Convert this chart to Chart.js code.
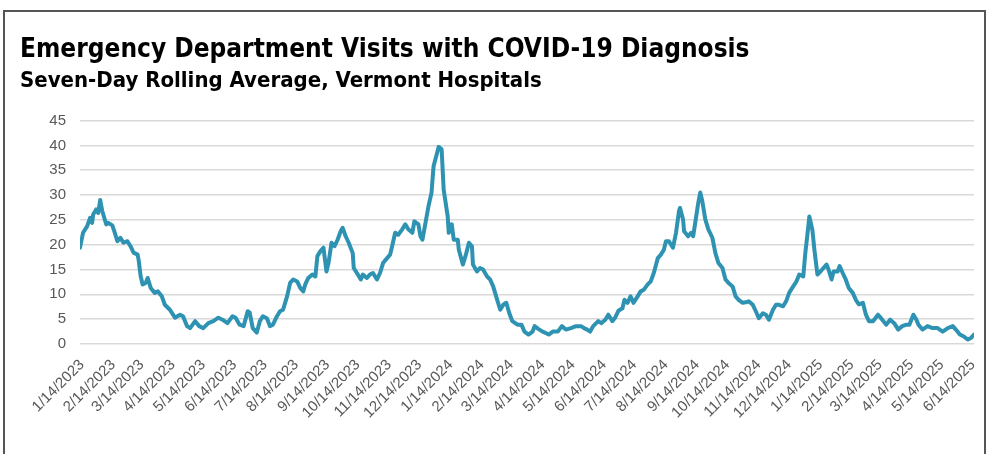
<!DOCTYPE html>
<html>
<head>
<meta charset="utf-8">
<title>Emergency Department Visits with COVID-19 Diagnosis</title>
<script src="https://cdn.jsdelivr.net/npm/chart.js@4.4.1/dist/chart.umd.min.js"></script>
<style>
    html, body { margin: 0; padding: 0; background: #fff; }
    #wrap { position: relative; width: 999px; height: 454px; overflow: hidden; }
    #frame {
        position: absolute; left: 3px; top: 10px; width: 983px; height: 470px;
        box-sizing: border-box; border: 2px solid #555; pointer-events: none;
    }
</style>
</head>
<body>
<div id="wrap">
    <canvas id="chartVisitas" width="999" height="454"></canvas>
    <div id="frame"></div>
</div>
<script>
// Etiquetas del eje X (una por mes, el día 14)
const tickLabels = [
    '1/14/2023', '2/14/2023', '3/14/2023', '4/14/2023', '5/14/2023', '6/14/2023',
    '7/14/2023', '8/14/2023', '9/14/2023', '10/14/2023', '11/14/2023', '12/14/2023',
    '1/14/2024', '2/14/2024', '3/14/2024', '4/14/2024', '5/14/2024', '6/14/2024',
    '7/14/2024', '8/14/2024', '9/14/2024', '10/14/2024', '11/14/2024', '12/14/2024',
    '1/14/2025', '2/14/2025', '3/14/2025', '4/14/2025', '5/14/2025', '6/14/2025'
];

// Días desde el 1/14/2023
const dayOffsets = [
    -2, 1, 5, 8, 10, 11, 14, 16, 18, 20, 24, 26, 30, 32, 35, 38, 41, 45, 48, 51,
    55, 56, 58, 60, 63, 65, 68, 72, 75, 79, 82, 87, 92, 97, 100, 104, 107, 112, 116, 120,
    125, 130, 135, 139, 144, 149, 152, 156, 160, 164, 166, 169, 173, 176, 179, 183, 186, 189, 193, 196,
    199, 203, 206, 209, 213, 216, 219, 221, 224, 228, 231, 233, 236, 239, 242, 244, 247, 250, 253, 256,
    258, 261, 264, 268, 269, 273, 276, 278, 282, 285, 288, 292, 295, 298, 302, 305, 307, 310, 313, 317,
    320, 323, 327, 329, 333, 335, 337, 340, 343, 346, 348, 352, 353, 356, 358, 362, 363, 366, 368, 372,
    373, 377, 380, 383, 386, 387, 391, 394, 397, 401, 404, 407, 411, 414, 417, 420, 423, 426, 431, 435,
    438, 442, 446, 448, 452, 456, 459, 462, 466, 471, 475, 479, 484, 489, 494, 497, 500, 503, 506, 511,
    514, 518, 521, 525, 528, 531, 535, 537, 540, 543, 546, 550, 553, 556, 560, 563, 566, 570, 573, 576,
    578, 581, 585, 588, 591, 592, 595, 596, 600, 603, 605, 608, 610, 612, 614, 617, 620, 624, 627, 630,
    634, 637, 640, 644, 647, 650, 654, 657, 660, 664, 667, 670, 674, 677, 680, 684, 687, 690, 694, 697,
    700, 704, 707, 710, 714, 716, 719, 720, 723, 725, 728, 731, 734, 737, 739, 742, 744, 748, 750, 753,
    756, 759, 763, 766, 769, 773, 776, 779, 783, 788, 791, 796, 800, 804, 808, 812, 816, 819, 823, 826,
    828, 832, 837, 842, 847, 852, 857, 862, 865, 869, 873, 877, 880, 883
];

// Promedio móvil de 7 días (visitas)
const visits = [
    19.4, 22.4, 23.7, 25.4, 24.4, 26.1, 27.1, 26.4, 29.0, 26.8, 24.1, 24.4, 23.9, 22.7, 20.7, 21.4, 20.4, 20.7, 19.7, 18.4,
    18.0, 17.0, 13.7, 12.0, 12.3, 13.3, 11.3, 10.3, 10.6, 9.6, 7.9, 6.9, 5.3, 5.9, 5.6, 3.6, 3.2, 4.6, 3.6, 3.2,
    4.2, 4.6, 5.3, 4.9, 4.2, 5.6, 5.3, 3.9, 3.6, 6.6, 6.3, 3.2, 2.3, 4.6, 5.6, 5.2, 3.6, 3.9, 5.6, 6.6,
    6.9, 9.6, 12.3, 13.0, 12.6, 11.3, 10.6, 12.0, 13.3, 14.0, 13.6, 17.7, 18.7, 19.4, 14.6, 16.3, 20.4, 19.7, 21.0, 22.7,
    23.4, 21.7, 20.4, 18.3, 15.3, 14.0, 13.0, 14.0, 13.3, 14.0, 14.3, 13.0, 14.3, 16.3, 17.3, 18.0, 19.7, 22.4, 22.0, 23.1,
    24.1, 23.1, 22.4, 24.7, 24.1, 21.7, 21.0, 24.4, 27.8, 30.5, 35.8, 38.9, 39.7, 39.2, 31.1, 25.7, 22.4, 24.1, 21.0, 21.0,
    19.0, 16.0, 18.0, 20.4, 19.7, 16.0, 14.6, 15.3, 15.0, 13.6, 13.0, 11.6, 8.9, 6.9, 7.9, 8.3, 6.2, 4.6, 3.9, 3.9,
    2.5, 1.9, 2.5, 3.6, 3.0, 2.5, 2.2, 1.9, 2.5, 2.5, 3.6, 2.9, 3.2, 3.6, 3.6, 3.2, 2.9, 2.5, 3.6, 4.6,
    4.2, 4.9, 5.9, 4.6, 5.4, 6.7, 7.2, 8.9, 8.3, 9.6, 8.3, 9.6, 10.6, 10.9, 12.0, 12.6, 14.3, 17.3, 18.0, 19.0,
    20.7, 20.7, 19.4, 22.4, 26.8, 27.4, 25.1, 22.7, 21.7, 22.4, 21.7, 25.7, 28.4, 30.5, 28.8, 25.1, 23.1, 21.4, 18.3, 16.3,
    15.3, 13.0, 12.3, 11.6, 9.6, 8.9, 8.3, 8.4, 8.6, 7.9, 6.6, 5.2, 6.2, 5.9, 4.9, 6.9, 7.9, 7.9, 7.6, 8.6,
    10.3, 11.6, 12.5, 14.0, 13.6, 18.3, 23.7, 25.7, 23.0, 19.0, 14.0, 14.6, 15.3, 16.0, 15.0, 13.0, 14.6, 14.6, 15.7, 14.3,
    13.0, 11.3, 10.3, 8.9, 8.0, 8.3, 5.9, 4.6, 4.6, 5.9, 5.2, 3.9, 4.9, 4.2, 2.9, 3.6, 3.9, 3.9, 5.9, 4.9,
    3.9, 2.9, 3.6, 3.2, 3.2, 2.5, 3.2, 3.6, 2.9, 1.9, 1.5, 0.9, 1.2, 1.9
];

const yTicks = [0, 5, 10, 15, 20, 25, 30, 35, 40, 45];

const origen = new Date(2023, 0, 14);
const diaDe = (etiqueta) => {
    const [m, d, y] = etiqueta.split('/').map(Number);
    return Math.round((new Date(y, m - 1, d) - origen) / 86400000);
};

const fuenteEje = "'Liberation Sans', Arial, sans-serif";
const fuenteTitulo = "'Liberation Sans Narrow', 'DejaVu Sans Condensed', sans-serif";

const ctx = document.getElementById('chartVisitas').getContext('2d');
new Chart(ctx, {
    type: 'line',
    data: {
        datasets: [{
            label: 'ED visits',
            data: dayOffsets.map((d, i) => ({ x: d, y: visits[i] })),
            borderColor: '#2E92B2',
            borderWidth: 4,
            borderJoinStyle: 'round',
            borderCapStyle: 'round',
            pointRadius: 0,
            tension: 0,
            fill: false
        }]
    },
    options: {
        responsive: false,
        animation: false,
        layout: { padding: { left: 20, right: 25, top: 0, bottom: 0 } },
        plugins: {
            legend: { display: false },
            tooltip: { enabled: false },
            title: {
                display: true,
                text: 'Emergency Department Visits with COVID-19 Diagnosis',
                align: 'start',
                color: '#000',
                font: { family: fuenteTitulo, size: 26, weight: 'bold' },
                padding: { top: 35, bottom: 2 }
            },
            subtitle: {
                display: true,
                text: 'Seven-Day Rolling Average, Vermont Hospitals',
                align: 'start',
                color: '#000',
                font: { family: fuenteTitulo, size: 22, weight: 'bold' },
                padding: { top: 0, bottom: 26 }
            }
        },
        scales: {
            x: {
                type: 'linear',
                min: -2,
                max: 883,
                afterBuildTicks: (s) => { s.ticks = tickLabels.map(l => ({ value: diaDe(l) })); },
                afterFit: (s) => { s.height = 110; },
                grid: { display: false },
                border: { display: false },
                ticks: {
                    autoSkip: false,
                    maxRotation: 45,
                    minRotation: 45,
                    padding: 4,
                    color: '#595959',
                    font: { family: fuenteEje, size: 15 },
                    callback: (v, i) => tickLabels[i]
                }
            },
            y: {
                min: 0,
                max: 45,
                afterBuildTicks: (s) => { s.ticks = yTicks.map(v => ({ value: v })); },
                afterFit: (s) => { s.width = 60; },
                grid: { color: '#D9D9D9', lineWidth: 1.5, drawTicks: false },
                border: { display: false },
                ticks: {
                    padding: 14,
                    color: '#595959',
                    font: { family: fuenteEje, size: 15 }
                }
            }
        }
    }
});
</script>
</body>
</html>
